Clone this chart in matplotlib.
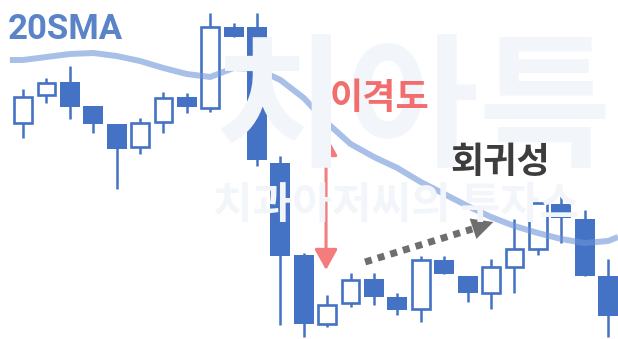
import matplotlib
matplotlib.use("Agg")
import matplotlib.pyplot as plt

# dados (preco em "pixels" invertidos)
abertura = [216, 244, 257, 233, 215, 192, 217, 242, 231, 312, 312, 176, 84,
            15, 36, 60, 42, 30, 79, 63, 46, 72, 90, 135, 120, 63]
maxima = [250, 261, 273, 233, 215, 221, 247, 246, 326, 316, 326, 183, 86,
          44, 66, 66, 46, 83, 83, 63, 80, 120, 136, 143, 129, 80]
minima = [201, 236, 220, 206, 150, 185, 206, 226, 227, 302, 173, 14, 2,
          12, 32, 34, 24, 17, 65, 37, 30, 46, 84, 96, 63, 2]
fechamento = [242, 256, 232, 215, 190, 216, 241, 232, 312, 302, 179, 83, 15,
              34, 59, 42, 29, 79, 65, 46, 72, 90, 136, 121, 63, 23]

ma_x = [-0.56, 0, 1, 2, 3, 4, 5, 6, 7, 8, 9, 10, 11, 12, 13, 14, 15, 16,
        17, 18, 19, 20, 21, 22, 23, 24, 25, 25.43]
ma_y = [279, 279, 282, 285, 286, 283, 278, 271, 265, 262, 271, 270, 259, 241,
        216, 195, 182, 171, 157, 145, 133, 122, 113, 106, 100, 96, 98, 102]

seta_x = 12.95
seta_topo, seta_base = 204, 69
ret_ini = (14.62, 77)
ret_fim = (19.2, 110)
ret_ponta = (20.1, 117)

azul = "#4472c4"
fonte_kr = ["Noto Sans CJK KR", "DejaVu Sans"]

fig = plt.figure(figsize=(6.18, 3.39), dpi=100)
ax = fig.add_axes([0, 0, 1, 1])
ax.set_xlim(-0.983, 25.427)
ax.set_ylim(0, 339)
ax.axis("off")

# marca d'agua
fig.text(213 / 618, 1 - 112 / 339, "치아특", family=fonte_kr, weight="bold",
         fontsize=104, color="#f2f5fa", va="center", ha="left", zorder=0)
fig.text(213 / 618, 1 - 205 / 339, "치과아저씨의 투자스", family=fonte_kr,
         weight="bold", fontsize=31, color="#f2f5fa", va="center", ha="left",
         zorder=0)

# candles
for i in range(len(abertura)):
    o, h, l, c = abertura[i], maxima[i], minima[i], fechamento[i]
    ax.vlines(i, l, h, color=azul, lw=1.8, zorder=2)
    if c >= o:
        ax.bar(i, c - o, bottom=o, width=0.76, facecolor="white",
               edgecolor=azul, linewidth=1.9, zorder=3)
    else:
        ax.bar(i, o - c, bottom=c, width=0.86, color=azul, zorder=3)

# media movel
ax.plot(ma_x, ma_y, color="#6f95d8", alpha=0.6, lw=4.3,
        solid_capstyle="butt", zorder=4)

# seta do desvio
ax.annotate("", xy=(seta_x, seta_topo), xytext=(seta_x, seta_base),
            arrowprops=dict(arrowstyle="<|-|>,head_length=0.9,head_width=0.5",
                            color="#f47c7c", lw=2.2, mutation_scale=14,
                            shrinkA=0, shrinkB=0), zorder=5)

# seta tracejada de retorno
ax.plot([ret_ini[0], ret_fim[0]], [ret_ini[1], ret_fim[1]], color="#6e6e6e",
        lw=5, linestyle=(0, (1, 0.9)), solid_capstyle="butt",
        dash_capstyle="butt", zorder=5)
ax.annotate("", xy=ret_ponta, xytext=ret_fim,
            arrowprops=dict(arrowstyle="-|>,head_length=1.1,head_width=0.55",
                            color="#6e6e6e", lw=0, mutation_scale=14,
                            shrinkA=0, shrinkB=0), zorder=5)

# textos
fig.text(8 / 618, 1 - 39 / 339, "20SMA", family="Roboto", weight="bold",
         fontsize=25, color="#5b84c8", va="baseline", ha="left")
fig.text(380 / 618, 1 - 98 / 339, "이격도", family=fonte_kr, weight="black",
         fontsize=26, color="#f26d6d", va="center", ha="center")
fig.text(500 / 618, 1 - 163 / 339, "회귀성", family=fonte_kr, weight="black",
         fontsize=26, color="#3d3d3d", va="center", ha="center")

plt.savefig("out.png", dpi=100)
